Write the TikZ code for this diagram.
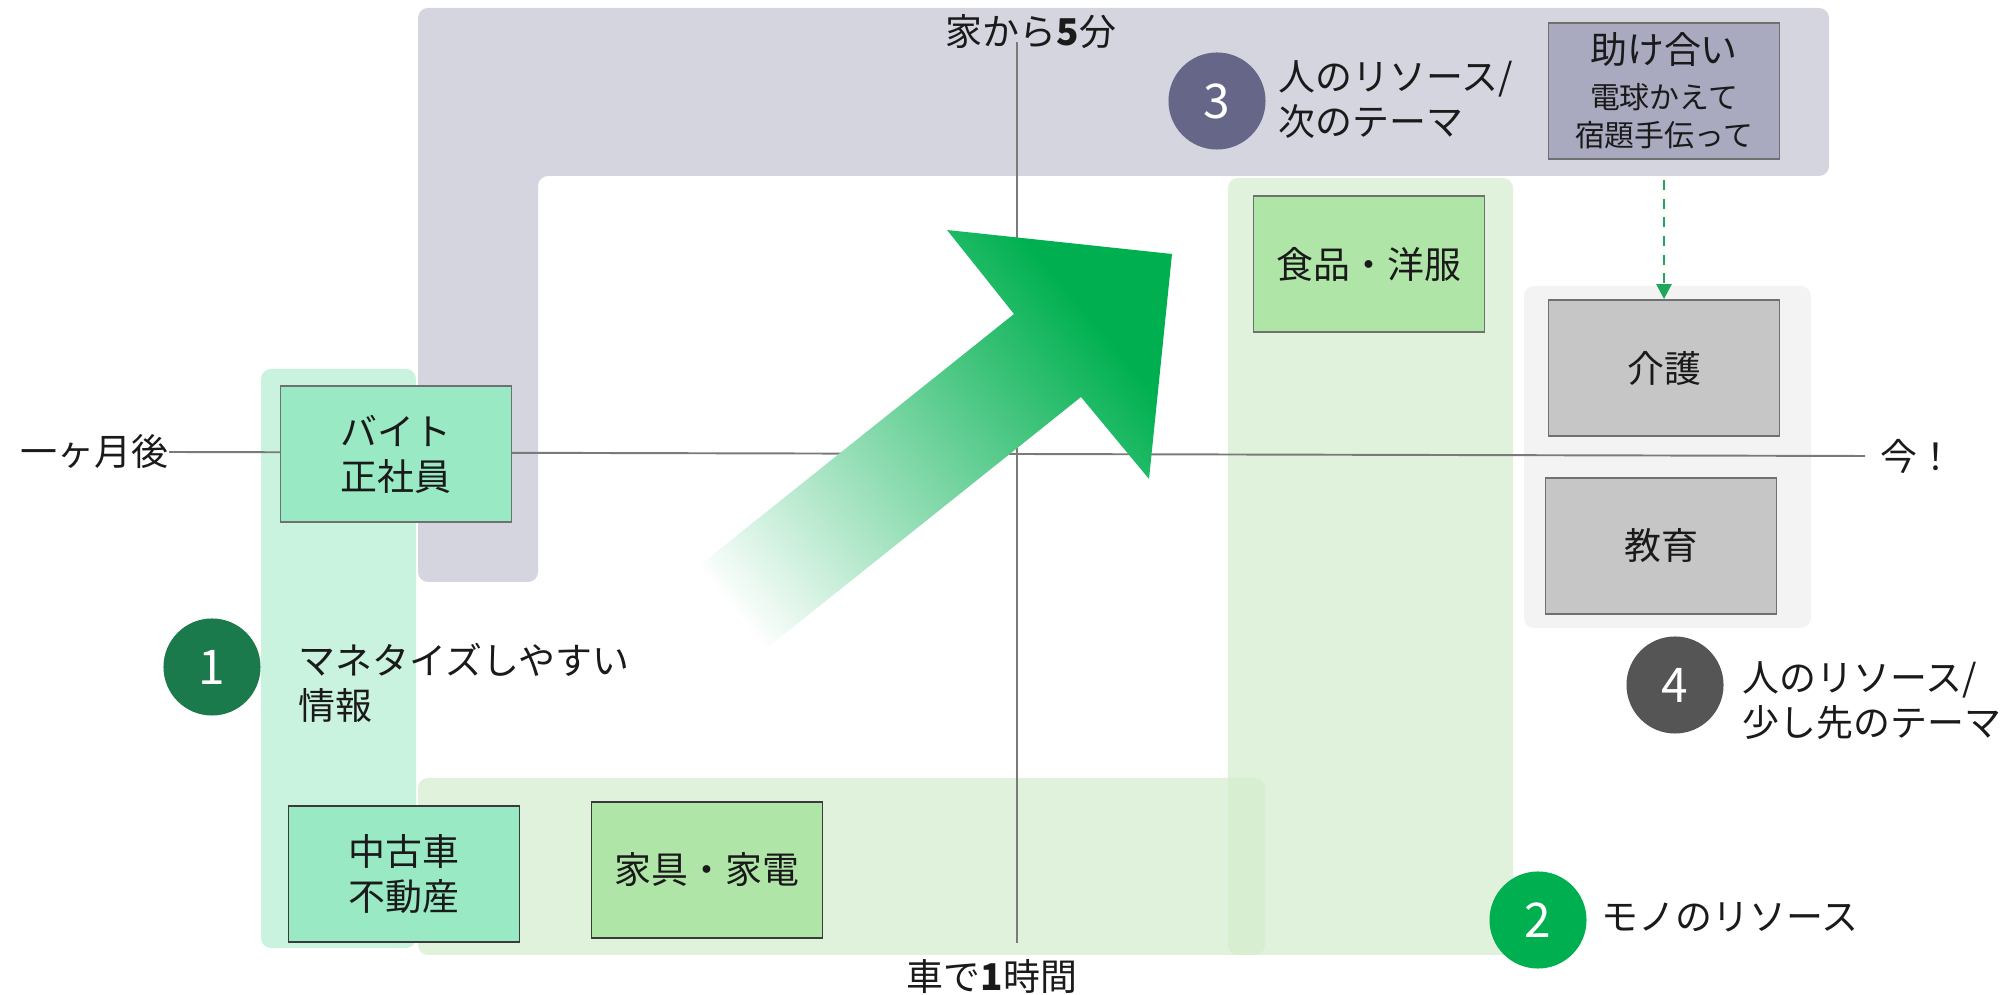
\documentclass[tikz,border=0pt]{standalone}
\usepackage{fontspec}
\setmainfont{Noto Sans CJK JP}
\usetikzlibrary{arrows.meta}

\definecolor{bandgray}{HTML}{D5D5DF}
\definecolor{bandmint}{HTML}{C9F2DF}
\definecolor{bandgreen}{HTML}{D3EDCC}
\definecolor{bandlight}{HTML}{F3F3F3}
\definecolor{boxmint}{HTML}{98E9C4}
\definecolor{boxgreen}{HTML}{B0E5A8}
\definecolor{boxpurple}{HTML}{A9A9BF}
\definecolor{boxgray}{HTML}{C6C6C6}
\definecolor{edgegray}{HTML}{707070}
\definecolor{edgedark}{HTML}{3A3A3A}
\definecolor{axisgray}{HTML}{7A7A7A}
\definecolor{darkgreen}{HTML}{1B7A4B}
\definecolor{brightgreen}{HTML}{00B050}
\definecolor{dashgreen}{HTML}{1FA65A}
\definecolor{slate}{HTML}{666688}
\definecolor{charcoal}{HTML}{555555}
\definecolor{ink}{HTML}{1A1A1A}

\pgfdeclarehorizontalshading{arrowfade}{100bp}{color(0bp)=(white);
  color(20bp)=(white); color(72bp)=(brightgreen); color(100bp)=(brightgreen)}

\tikzset{
  band/.style={rounded corners=0.1cm},
  cell/.style={draw=edgegray, line width=0.5pt, minimum width=2.31cm,
    minimum height=1.36cm, inner sep=0pt, align=center, text=ink,
    font=\fontsize{10.5}{12.8}\selectfont},
  badge/.style={circle, minimum size=0.97cm, inner sep=0pt, text=white,
    font=\fontsize{13.6}{14}\selectfont},
  note/.style={anchor=west, align=left, inner sep=0pt, text=ink,
    font=\fontsize{10.5}{12.8}\selectfont},
  axislabel/.style={inner sep=0pt, text=ink, font=\fontsize{10.5}{12.8}\selectfont},
}
\newcommand{\smalltext}[1]{{\fontsize{8.5}{10.8}\selectfont #1}}

\begin{document}
\begin{tikzpicture}[x=0.01cm, y=-0.01cm]
  \useasboundingbox (0,0) rectangle (2015,995);

  \fill[bandgray, band] (418,582) -- (418,8) -- (1829,8) -- (1829,176)
    -- (538,176) -- (538,582) -- cycle;
  \fill[bandmint, band] (261,369) rectangle (416,948);
  \fill[bandgreen, fill opacity=0.71, band] (418,778) rectangle (1265,955);
  \fill[bandgreen, fill opacity=0.71, band] (1228,178) rectangle (1513,955);
  \fill[bandlight, band] (1524,286) rectangle (1811,628);

  \node[axislabel] (home) at (1031,32) {家から{\bfseries 5}分};
  \node[axislabel] (car) at (992,977) {車で{\bfseries 1}時間};
  \node[axislabel, anchor=east] (month) at (169,452) {一ヶ月後};
  \node[axislabel, anchor=west, inner xsep=0.15cm] (now) at (1865,456) {今！};
  \coordinate (vtop) at (1017,42);
  \coordinate (vbot) at (1017,943);
  \begin{scope}[axisgray, line width=0.55pt]
    \draw (vtop) -- (vbot);
    \draw (month.east) -- (now.west);
  \end{scope}

  \node[cell, fill=boxmint] (baito) at (396,454) {バイト\\正社員};
  \node[cell, fill=boxmint, draw=edgedark] (chuko) at (404,874) {中古車\\不動産};
  \node[cell, fill=boxgreen, draw=edgedark] (kagu) at (707,870) {家具・家電};
  \node[cell, fill=boxgreen] (shoku) at (1369,264) {食品・洋服};
  \node[cell, fill=boxpurple] (help) at (1664,91)
    {助け合い\\\smalltext{電球かえて}\\[-2pt]\smalltext{宿題手伝って}};
  \node[cell, fill=boxgray] (kaigo) at (1664,368) {介護};
  \node[cell, fill=boxgray] (kyoiku) at (1661,546) {教育};

  \draw[dashgreen, line width=0.027cm, dash pattern=on 0.1cm off 0.087cm,
    shorten <=0.2cm, -{Triangle[width=0.15cm, length=0.15cm]}]
    (help.south) -- (kaigo.north);

  \shade[shading=arrowfade, shading angle=40]
    (700,565) -- (1014,314) -- (947,230) -- (1172,254) -- (1149,479)
    -- (1081,397) -- (767,648) -- cycle;

  \node[badge, fill=darkgreen] (c1) at (212,667) {1};
  \node[note] (t1) at (298,683) {マネタイズしやすい\\情報};
  \node[badge, fill=brightgreen] (c2) at (1538,920) {2};
  \node[note] (t2) at (1601,917) {モノのリソース};
  \node[badge, fill=slate] (c3) at (1217,101) {3};
  \node[note] (t3) at (1278,100) {人のリソース/\\次のテーマ};
  \node[badge, fill=charcoal] (c4) at (1675,685) {4};
  \node[note] (t4) at (1742,701) {人のリソース/\\少し先のテーマ};
\end{tikzpicture}
\end{document}
